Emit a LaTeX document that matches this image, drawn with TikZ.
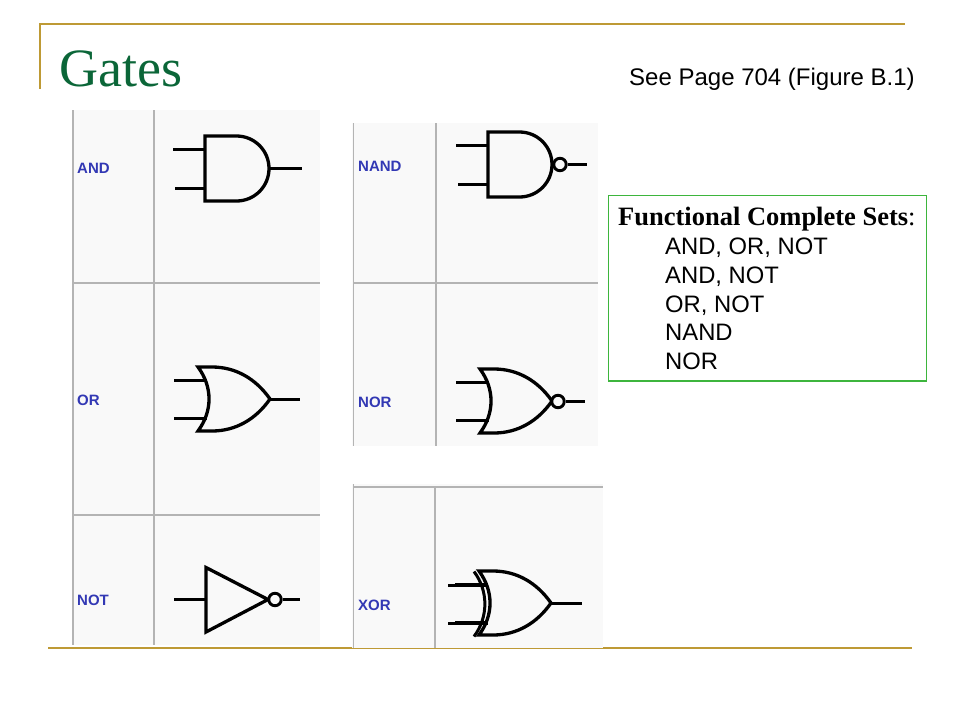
\documentclass[tikz,border=0pt]{standalone}
\usepackage{fontspec}
\setmainfont{Liberation Serif}
\setsansfont{Liberation Sans}
\definecolor{gold}{HTML}{BE9A35}
\definecolor{titlegreen}{HTML}{0B6638}
\definecolor{boxgreen}{HTML}{3DB53D}
\definecolor{panelbg}{HTML}{F9F9F9}
\definecolor{gridgrey}{HTML}{B4B4B4}
\definecolor{labelblue}{HTML}{3238B4}
\tikzset{
  rulegold/.style={draw=gold,line width=2.4pt},
  panel/.style={fill=panelbg,draw=none},
  gridline/.style={draw=gridgrey,line width=1.3pt},
  gatename/.style={text=labelblue,font=\sffamily\bfseries\fontsize{15}{15}\selectfont,anchor=west,inner sep=0pt},
  wire/.style={line width=2.9pt,black},
  body/.style={line width=3.3pt,black,miter limit=10},
  bubble/.style={line width=2.9pt,black,fill=panelbg},
  setline/.style={font=\sffamily\fontsize{23.8}{23.8}\selectfont,anchor=base west,inner sep=0pt},
  pics/andbody/.style={code={
    \draw[wire] (-32,13.5)--(0,13.5) (-30,52.5)--(0,52.5);
    \draw[body] (0,0)--(31.5,0) .. controls (49.5,0) and (64,14.5) .. (64,32.5)
      .. controls (64,50.5) and (49.5,65) .. (31.5,65) -- (0,65) -- cycle;
  }},
  pics/orbody/.style={code={
    \draw[wire] (-24,13.5)--(9,13.5) (-24,51.5)--(9,51.5);
    \draw[body] (0,0)--(14,0) .. controls (38,0) and (58,12) .. (72,32)
      .. controls (58,52) and (38,64) .. (14,64) -- (0,64)
      .. controls (14.7,44) and (14.7,20) .. (0,0) -- cycle;
  }}
}
\begin{document}
\begin{tikzpicture}[x=1pt,y=-1pt]
\useasboundingbox (0,0) rectangle (960,720);
% slide rules
\draw[rulegold,line cap=rect] (40,88)--(40,24)--(904,24);
\draw[rulegold] (48,648)--(912,648);
% panels
\fill[panel] (72,110) rectangle (320,645);
\fill[panel] (352,123) rectangle (598,446);
\fill[panel] (352,484) rectangle (603,648);
\draw[gridline] (73,110)--(73,645) (154,110)--(154,645) (73,283)--(320,283) (73,515)--(320,515);
\draw[gridline] (353.5,123)--(353.5,446) (436,123)--(436,446) (353.5,283)--(598,283);
\draw[gridline] (353.5,484)--(353.5,648) (435,487)--(435,648) (353.5,487)--(603,487);
% title texts
\node[anchor=base west,inner sep=0pt,text=titlegreen,font=\fontsize{54}{54}\selectfont] (title) at (59,86) {Gates};
\node[anchor=base west,inner sep=0pt,font=\sffamily\fontsize{24}{24}\selectfont] (see) at (629,85) {See Page 704 (Figure B.1)};
% gate names
\node[gatename] (lAND) at (77,168) {AND};
\node[gatename] (lOR) at (77,400) {OR};
\node[gatename] (lNOT) at (77,600) {NOT};
\node[gatename] (lNAND) at (358,166) {NAND};
\node[gatename] (lNOR) at (358,402) {NOR};
\node[gatename] (lXOR) at (358,605) {XOR};
% AND
\pic at (205,136) {andbody};
\coordinate (andOut) at (269,168.5); \coordinate (andEnd) at (302,168.5);
\draw[wire] (andOut)--(andEnd);
% NAND
\pic at (488,132) {andbody};
\coordinate (nandEnd) at (587,164.5);
\node[circle,draw,bubble,minimum size=12.5pt,inner sep=0pt] (nandB) at (560,164.5) {};
\draw[wire] (nandB)--(nandEnd);
% OR
\pic at (198,367) {orbody};
\coordinate (orOut) at (270,399.5); \coordinate (orEnd) at (300,399.5);
\draw[wire] (orOut)--(orEnd);
% NOR
\pic at (480,369) {orbody};
\coordinate (norEnd) at (585,401.5);
\node[circle,draw,bubble,minimum size=12.5pt,inner sep=0pt] (norB) at (558,401.5) {};
\draw[wire] (norB)--(norEnd);
% XOR
\pic at (479,571) {orbody};
\draw[line width=3pt] (474,571.5) .. controls (488.5,591) and (488.5,617) .. (474,636.5);
\coordinate (xorOut) at (551,603.5); \coordinate (xorEnd) at (582,603.5);
\draw[wire] (xorOut)--(xorEnd);
\coordinate (xorA) at (448,585.5); \coordinate (xorB) at (448,623.5);
\coordinate (xorA2) at (488,585.5); \coordinate (xorB2) at (488,623.5);
\draw[wire] (xorA)--(xorA2) (xorB)--(xorB2);
% NOT
\coordinate (notIn) at (174,599.5); \coordinate (notL) at (206,599.5);
\draw[wire] (notIn)--(notL);
\draw[body] (206,567.5)--(268,599.5)--(206,632)--cycle;
\node[circle,draw,bubble,minimum size=12.5pt,inner sep=0pt] (notB) at (275,599.5) {};
\coordinate (notEnd) at (300,599.5);
\draw[wire] (notB)--(notEnd);
% box
\draw[draw=boxgreen,line width=1.2pt] (608.5,195.5) rectangle (926.5,381);
\node[anchor=base west,inner sep=0pt,font=\fontsize{26.5}{26.5}\selectfont] (head) at (618,225) {\textbf{Functional Complete Sets}:};
\node[setline] (s1) at (665,254) {AND, OR, NOT};
\node[setline] (s2) at (665,283) {AND, NOT};
\node[setline] (s3) at (665,312) {OR, NOT};
\node[setline] (s4) at (665,340) {NAND};
\node[setline] (s5) at (665,369) {NOR};
\end{tikzpicture}
\end{document}
